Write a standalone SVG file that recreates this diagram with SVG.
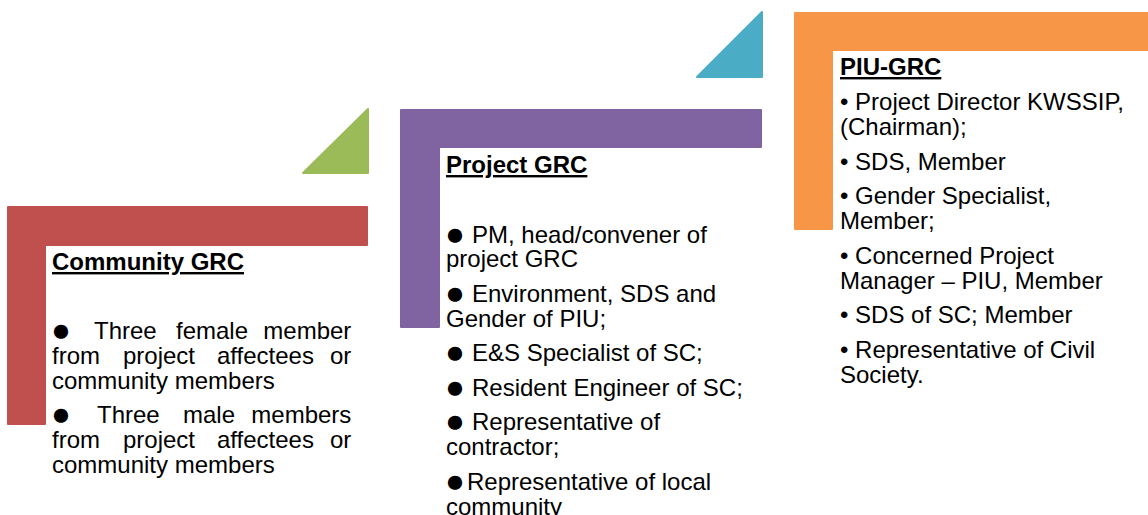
<svg xmlns="http://www.w3.org/2000/svg" width="1148" height="515" viewBox="0 0 1148 515">
  <style>
    .t { font-family: "Liberation Sans", Arial, sans-serif; font-size: 24px; fill: #000; }
    .b { font-size: 33px; }
    .h { font-weight: bold; text-decoration: underline; }
    .lr { stroke-linejoin: round; stroke-width: 2; }
  </style>
  <rect width="1148" height="515" fill="#fff"/>
  <g id="connectors">
    <polygon class="lr" points="303,173 368,109 368,173" fill="#9BBB59" stroke="#9BBB59"/>
    <polygon class="lr" points="697,77 762,12 762,77" fill="#4BACC6" stroke="#4BACC6"/>
  </g>
  <g id="community-grc">
    <path class="lr" d="M8,207 H367 V245 H45 V424 H8 Z" fill="#C0504D" stroke="#C0504D"/>
    <text class="t h" x="52" y="270">Community GRC</text>
    <text class="t">
      <tspan class="b" x="51" y="341">●</tspan><tspan x="94" y="339">Three</tspan><tspan x="176" y="339">female</tspan><tspan x="358" y="339" text-anchor="end">member</tspan>
      <tspan x="52" y="364">from</tspan><tspan x="123" y="364">project</tspan><tspan x="217" y="364">affectees</tspan><tspan x="358" y="364" text-anchor="end">or</tspan>
      <tspan x="52" y="388.5">community members</tspan>
      <tspan class="b" x="51" y="425">●</tspan><tspan x="97" y="423">Three</tspan><tspan x="183" y="423">male</tspan><tspan x="358" y="423" text-anchor="end">members</tspan>
      <tspan x="52" y="448">from</tspan><tspan x="123" y="448">project</tspan><tspan x="217" y="448">affectees</tspan><tspan x="358" y="448" text-anchor="end">or</tspan>
      <tspan x="52" y="472.5">community members</tspan>
    </text>
  </g>
  <g id="project-grc">
    <path class="lr" d="M401,110 H761 V147 H439 V327 H401 Z" fill="#8064A2" stroke="#8064A2"/>
    <text class="t h" x="446" y="173">Project GRC</text>
    <text class="t">
      <tspan class="b" x="445" y="244.5">●</tspan><tspan x="472" y="242.5">PM, head/convener of</tspan>
      <tspan x="446" y="267">project GRC</tspan>
      <tspan class="b" x="445" y="303.5">●</tspan><tspan x="472" y="301.5">Environment, SDS and</tspan>
      <tspan x="446" y="326.5">Gender of PIU;</tspan>
      <tspan class="b" x="445" y="363">●</tspan><tspan x="472" y="361">E&amp;S Specialist of SC;</tspan>
      <tspan class="b" x="445" y="397.5">●</tspan><tspan x="472" y="395.5">Resident Engineer of SC;</tspan>
      <tspan class="b" x="445" y="432">●</tspan><tspan x="472" y="430">Representative of</tspan>
      <tspan x="446" y="455">contractor;</tspan>
      <tspan class="b" x="445" y="491.5">●</tspan><tspan x="467" y="489.5">Representative of local</tspan>
      <tspan x="446" y="514.5">community</tspan>
    </text>
  </g>
  <g id="piu-grc">
    <path class="lr" d="M795,13 H1152 V50 H832 V229 H795 Z" fill="#F79646" stroke="#F79646"/>
    <text class="t h" x="840" y="75">PIU-GRC</text>
    <text class="t">
      <tspan x="840" y="110">• Project Director KWSSIP,</tspan>
      <tspan x="840" y="135">(Chairman);</tspan>
      <tspan x="840" y="169.5">• SDS, Member</tspan>
      <tspan x="840" y="204">• Gender Specialist,</tspan>
      <tspan x="840" y="229">Member;</tspan>
      <tspan x="840" y="263.5">• Concerned Project</tspan>
      <tspan x="840" y="288.5">Manager – PIU, Member</tspan>
      <tspan x="840" y="323">• SDS of SC; Member</tspan>
      <tspan x="840" y="357.5">• Representative of Civil</tspan>
      <tspan x="840" y="382.5">Society.</tspan>
    </text>
  </g>
</svg>
